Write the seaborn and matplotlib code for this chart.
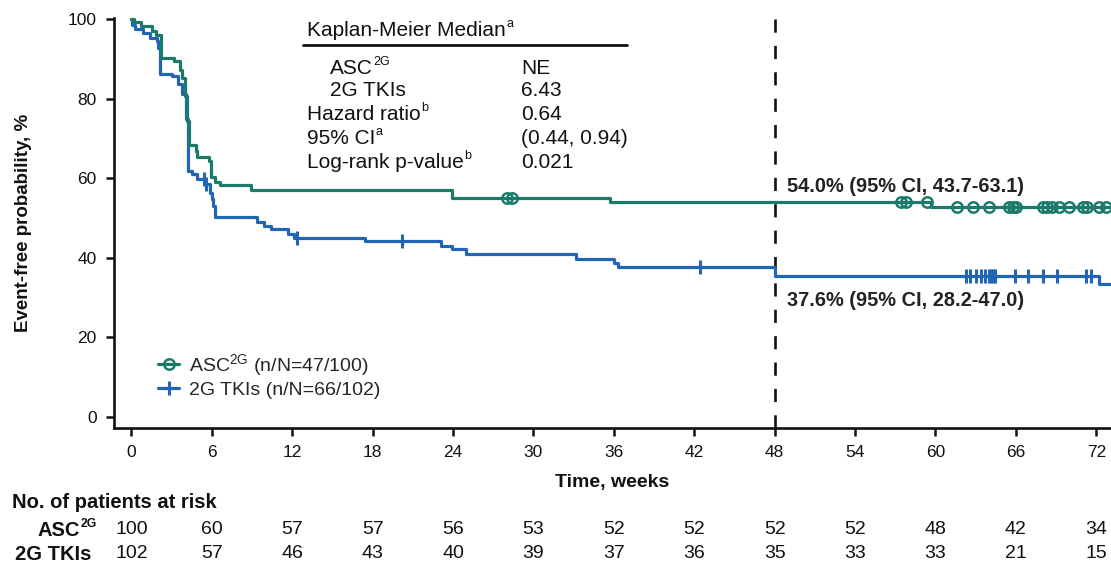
import numpy as np
import pandas as pd
import matplotlib
matplotlib.use("Agg")
import matplotlib.pyplot as plt
import seaborn as sns
from matplotlib.lines import Line2D
from matplotlib.transforms import blended_transform_factory

# ---------------- data ----------------
asc_times = [0, 0.2, 0.75, 1.5, 1.8, 2.2, 3.15, 3.65, 3.8, 4.0, 4.15, 4.3, 4.8, 4.9,
             5.8, 5.95, 6.25, 6.6, 8.9, 23.9, 35.7, 59.7, 73.5]
asc_surv = [100, 99.4, 98.3, 97.2, 96.1, 90.4, 89.6, 87.4, 85.3, 80.7, 74.4, 68.3, 67.0, 65.3,
            64.5, 60.3, 59.0, 58.3, 57.1, 55.0, 54.0, 52.7, 52.7]
asc_censor = [28.0, 28.4, 57.4, 57.8, 59.4, 61.6, 62.8, 64.0, 65.5, 65.8, 66.0, 68.0, 68.3,
              68.7, 69.2, 70.0, 71.0, 71.3, 72.2, 72.7]

tki_times = [0, 0.05, 0.3, 0.9, 1.4, 1.9, 2.0, 2.1, 3.0, 3.5, 3.8, 4.05, 4.2, 4.5, 4.9, 5.5,
             5.9, 6.0, 6.1, 6.26, 9.4, 9.9, 10.4, 11.7, 12.1, 17.4, 23.1, 23.9, 25.0, 33.2,
             36.0, 36.3, 48.05, 72.2, 73.5]
tki_surv = [100, 98.7, 97.7, 96.6, 95.4, 94.6, 92.9, 86.3, 85.8, 83.7, 81.2, 75.0, 61.9, 61.1,
            59.8, 58.5, 56.4, 54.8, 53.1, 50.2, 49.1, 48.1, 47.2, 46.0, 44.9, 44.2, 43.1, 42.2,
            41.0, 39.7, 38.6, 37.6, 35.5, 33.4, 33.4]
tki_censor = [5.4, 5.55, 12.35, 20.2, 42.4, 62.3, 62.6, 63.0, 63.4, 63.7, 64.0, 64.15, 64.3,
              64.45, 65.9, 66.9, 68.0, 69.1, 71.2, 71.6]

risk_times = [0, 6, 12, 18, 24, 30, 36, 42, 48, 54, 60, 66, 72]
risk_asc = [100, 60, 57, 57, 56, 53, 52, 52, 52, 52, 48, 42, 34]
risk_tki = [102, 57, 46, 43, 40, 39, 37, 36, 35, 33, 33, 21, 15]

y_ticks = [0, 20, 40, 60, 80, 100]

# (label, superscript, value)
table_rows = [("Kaplan-Meier Median", "a", ""),
              ("ASC", "2G", "NE"),
              ("2G TKIs", "", "6.43"),
              ("Hazard ratio", "b", "0.64"),
              ("95% CI", "a", "(0.44, 0.94)"),
              ("Log-rank p-value", "b", "0.021")]

legend_labels = ["ASC$^{2G}$ (n/N=47/100)", "2G TKIs (n/N=66/102)"]
annot_48 = ["54.0% (95% CI, 43.7-63.1)", "37.6% (95% CI, 28.2-47.0)"]

GREEN = "#1b7b6b"
BLUE = "#2166b5"
INK = "#111111"

# ---------------- style ----------------
sns.set_theme(style="ticks")
plt.rcParams["font.family"] = ["Liberation Sans", "DejaVu Sans"]
plt.rcParams["mathtext.fontset"] = "custom"
plt.rcParams["mathtext.rm"] = "Liberation Sans"
plt.rcParams["mathtext.it"] = "Liberation Sans:italic"
plt.rcParams["mathtext.bf"] = "Liberation Sans:bold"
plt.rcParams["mathtext.default"] = "rm"

W, H = 1111, 566
fig = plt.figure(figsize=(W / 100, H / 100), dpi=100)
ax_left, ax_right, ax_top, ax_bot = 114, 1111, 17.9, 428
ax = fig.add_axes([ax_left / W, 1 - ax_bot / H, (ax_right - ax_left) / W, (ax_bot - ax_top) / H])
renderer = fig.canvas.get_renderer()

SUP = 0.6


def fx(x):
    return x / W


def fy(y):
    return 1 - y / H


def text_sup(x, y, base, sup, size, weight="normal", ha="left", color=INK):
    """Base text with a small raised superscript (x, y in pixel coords from top-left)."""
    rise = 0.28 * size * 100 / 72 / H
    if ha == "right" and sup:
        s = fig.text(fx(x), fy(y) + rise, sup, fontsize=size * SUP, fontweight=weight,
                     ha="right", va="center", color=color)
        bb = s.get_window_extent(renderer)
        fig.text((bb.x0 - 0.5) / W, fy(y), base, fontsize=size, fontweight=weight,
                 ha="right", va="center", color=color)
        return
    b = fig.text(fx(x), fy(y), base, fontsize=size, fontweight=weight, ha=ha,
                 va="center", color=color)
    if sup:
        bb = b.get_window_extent(renderer)
        fig.text((bb.x1 + 0.5) / W, fy(y) + rise, sup,
                 fontsize=size * SUP, fontweight=weight, ha="left", va="center", color=color)


def step_value(times, surv, t):
    i = np.searchsorted(times, t, side="right") - 1
    return surv[i]


asc_df = pd.DataFrame({"t": asc_times, "s": asc_surv})
tki_df = pd.DataFrame({"t": tki_times, "s": tki_surv})
sns.lineplot(data=tki_df, x="t", y="s", drawstyle="steps-post", color=BLUE, lw=2.3,
             estimator=None, ax=ax, zorder=3)
sns.lineplot(data=asc_df, x="t", y="s", drawstyle="steps-post", color=GREEN, lw=2.3,
             estimator=None, ax=ax, zorder=4)

asc_c = pd.DataFrame({"t": asc_censor,
                      "s": [step_value(asc_times, asc_surv, c) for c in asc_censor]})
tki_c = pd.DataFrame({"t": tki_censor,
                      "s": [step_value(tki_times, tki_surv, c) for c in tki_censor]})
sns.lineplot(data=asc_c, x="t", y="s", marker="o", linestyle="none", mfc="none", mec=GREEN,
             mew=1.8, ms=7.5, color=GREEN, estimator=None, ax=ax, zorder=5)
sns.lineplot(data=tki_c, x="t", y="s", marker="|", linestyle="none", mec=BLUE,
             mew=2.2, ms=9.5, color=BLUE, estimator=None, ax=ax, zorder=5)

ax.axvline(48, color=INK, lw=1.9, ls=(0, (5, 5)), zorder=2)

ax.set_xlim(-1.3, 73.1)
ax.set_ylim(-2.8, 100.4)
ax.set_xticks(risk_times)
ax.set_yticks(y_ticks)
ax.tick_params(axis="both", which="major", length=6, width=1.8, color=INK,
               labelsize=12.5, labelcolor=INK, pad=6.5)
for sp in ["left", "bottom"]:
    ax.spines[sp].set_linewidth(1.9)
    ax.spines[sp].set_color(INK)
sns.despine(ax=ax)

ax.set_xlabel("Time, weeks", fontsize=14, fontweight="bold", color=INK)
ax.xaxis.set_label_coords(0.5, -0.112)
ax.set_ylabel("Event-free probability, %", fontsize=13.5, fontweight="bold", color=INK)
ax.yaxis.set_label_coords(-0.082, 0.5)

# legend
handles = [
    Line2D([0], [0], color=GREEN, lw=2.3, marker="o", mfc="none", mec=GREEN, mew=1.8, ms=7.5),
    Line2D([0], [0], color=BLUE, lw=2.3, marker="+", mec=BLUE, mew=2.2, ms=10),
]
ax.legend(handles, legend_labels, loc="center left", bbox_to_anchor=(0.044, 0.1285),
          frameon=False, fontsize=14, handlelength=1.1, handletextpad=0.5,
          labelspacing=0.17, borderpad=0, borderaxespad=0)

# table of medians
rows_y = [30, 68, 90, 114, 138, 162]
rows_x = [307, 330, 330, 307, 307, 307]
for (lab, sup, val), x, y in zip(table_rows, rows_x, rows_y):
    text_sup(x, y, lab, sup, 15)
    if val:
        fig.text(fx(521), fy(y), val, fontsize=15, va="center", ha="left", color=INK)
fig.add_artist(Line2D([fx(303), fx(627)], [fy(45), fy(45)], color=INK, lw=2.0))

# annotations at 48 weeks
fig.text(fx(787), fy(186.5), annot_48[0], fontsize=14.4, fontweight="bold", va="center",
         ha="left", color="#222222")
fig.text(fx(787), fy(300), annot_48[1], fontsize=14.4, fontweight="bold", va="center",
         ha="left", color="#222222")

# risk table
tr = blended_transform_factory(ax.transData, fig.transFigure)
fig.text(fx(12), fy(502), "No. of patients at risk", fontsize=14.5, fontweight="bold",
         va="center", ha="left", color=INK)
text_sup(97, 530, "ASC", "2G", 14.5, weight="bold", ha="right")
fig.text(fx(91), fy(554), "2G TKIs", fontsize=14.5, fontweight="bold",
         va="center", ha="right", color=INK)
for t, a, b in zip(risk_times, risk_asc, risk_tki):
    ax.text(t, fy(530), str(a), transform=tr, fontsize=14, ha="center", va="center",
            color=INK)
    ax.text(t, fy(554), str(b), transform=tr, fontsize=14, ha="center", va="center",
            color=INK)

fig.savefig("out.png", dpi=100)
